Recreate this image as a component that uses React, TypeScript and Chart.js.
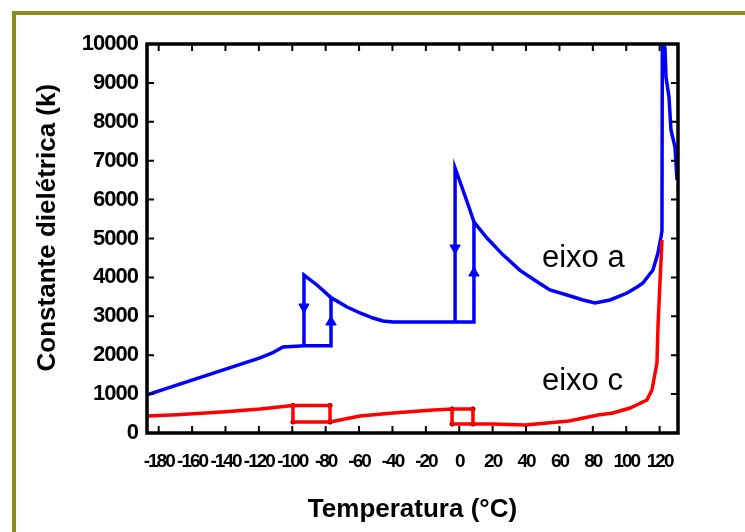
import React, { useEffect, useRef } from "react";
import { Chart, registerables } from "chart.js";

Chart.register(...registerables);

// X axis tick labels (temperature, °C) and Y axis tick labels (k)
const xTickValues = [-180, -160, -140, -120, -100, -80, -60, -40, -20, 0, 20, 40, 60, 80, 100, 120];
const yTickValues = [0, 1000, 2000, 3000, 4000, 5000, 6000, 7000, 8000, 9000, 10000];

// eixo a (blue) main path
const aTemp = [-187, -119.3, -112, -105.6, -95, -93, -76.8, -76.8, -67.2, -59.4, -51.7, -45.7, -39.7, -2.5, 8.8, 8.8, 16.6, 26.2, 36.4, 46.6, 54.3, 64.5, 74.1, 81.3, 90.3, 100.5, 106.5, 110, 116, 119, 120.8, 121.4, 121.6, 123.2, 123.8, 125.6, 126.8, 129.2, 130.4];
const aK = [980, 1930, 2057, 2210, 2237, 2240, 2240, 3480, 3239, 3085, 2956, 2879, 2853, 2853, 2853, 5424, 5013, 4580, 4180, 3890, 3676, 3548, 3420, 3342, 3420, 3599, 3753, 3856, 4190, 4627, 5039, 5200, 10000, 9900, 9152, 8637, 7789, 7352, 6504];
// eixo a hysteresis branches (cooling)
const aLoop1Temp = [-93, -93, -85.2, -76.8];
const aLoop1K = [2240, 4062, 3805, 3480];
const aLoop2Temp = [-2.5, -2.5, 2.2, 6.4, 8.8];
const aLoop2K = [2853, 6812, 6247, 5733, 5424];
// arrows on the hysteresis verticals
const arrowDownTemp = [-93, -2.5];
const arrowDownK = [3239, 4756];
const arrowUpTemp = [-76.8, 8.8];
const arrowUpK = [2853, 4113];

// eixo c (red) main path
const cTemp = [-187, -169, -140, -119.3, -99.6, -99.6, -77.4, -59.4, -39.7, -15.7, -4.3, -4.3, 8.2, 20.2, 39.4, 65.7, 83.1, 92.1, 102.3, 112.4, 115.4, 118.4, 119, 120.2, 121.4];
const cK = [440, 470, 545, 617, 707, 283, 283, 437, 514, 591, 617, 231, 231, 231, 206, 308, 463, 514, 643, 848, 1105, 1800, 2725, 3856, 4961];
// eixo c small boxes
const cBox1Temp = [-99.6, -77.4, -77.4];
const cBox1K = [707, 707, 283];
const cBox2Temp = [-4.3, 8.2, 8.2];
const cBox2K = [617, 617, 231];
const cCornerTemp = [-99.6, -99.6, -77.4, -77.4, -4.3, -4.3, 8.2, 8.2];
const cCornerK = [707, 283, 707, 283, 617, 231, 617, 231];

const curveLabels = ["eixo a", "eixo c"];
const curveLabelTemp = [49.5, 49.5];
const curveLabelK = [4267, 1105];

const zip = (xs: number[], ys: number[]) => xs.map((x, i) => ({ x, y: ys[i] }));

const BLUE = "#0000ff";
const RED = "#ff0000";
const SANS = '"Liberation Sans", Arial, sans-serif';

const framePlugin = {
  id: "frameTicks",
  afterDatasetsDraw(chart: any) {
    const { ctx, chartArea: a, scales } = chart;
    const x = scales.x;
    const y = scales.y;
    ctx.save();
    ctx.strokeStyle = "#000";
    ctx.lineWidth = 2;
    ctx.beginPath();
    x.ticks.forEach((t: any) => {
      const px = x.getPixelForValue(t.value);
      ctx.moveTo(px, a.bottom);
      ctx.lineTo(px, a.bottom - 7);
      ctx.moveTo(px, a.top);
      ctx.lineTo(px, a.top + 7);
    });
    y.ticks.forEach((t: any) => {
      const py = y.getPixelForValue(t.value);
      ctx.moveTo(a.left, py);
      ctx.lineTo(a.left + 7, py);
      ctx.moveTo(a.right, py);
      ctx.lineTo(a.right - 7, py);
    });
    ctx.stroke();
    ctx.lineWidth = 3.5;
    ctx.strokeRect(a.left, a.top, a.right - a.left, a.bottom - a.top);
    // curve labels
    ctx.fillStyle = "#000";
    ctx.font = `31px ${SANS}`;
    ctx.textAlign = "left";
    ctx.textBaseline = "alphabetic";
    curveLabels.forEach((txt, i) => {
      ctx.fillText(txt, x.getPixelForValue(curveLabelTemp[i]), y.getPixelForValue(curveLabelK[i]));
    });
    ctx.restore();
  },
};

// condense tick labels (the original uses a narrow bold face)
const condenseLabels = (s: any, spacing: string) => {
  if (s._condensed) return;
  const orig = s.drawLabels.bind(s);
  s.drawLabels = (area: any) => {
    const c = s.ctx;
    const prev = c.letterSpacing;
    c.letterSpacing = spacing;
    orig(area);
    c.letterSpacing = prev;
  };
  s._condensed = true;
};

export default function App() {
  const ref = useRef<HTMLCanvasElement>(null);
  useEffect(() => {
    if (!ref.current) return;
    const line = (data: any[], color: string) => ({
      data,
      showLine: true,
      borderColor: color,
      backgroundColor: color,
      borderWidth: 3.5,
      pointRadius: 0,
      tension: 0,
      fill: false,
    });
    const chart = new Chart(ref.current, {
      type: "scatter",
      data: {
        datasets: [
          line(zip(cTemp, cK), RED),
          line(zip(cBox1Temp, cBox1K), RED),
          line(zip(cBox2Temp, cBox2K), RED),
          {
            data: zip(cCornerTemp, cCornerK),
            showLine: false,
            pointRadius: 2.5,
            backgroundColor: "#000",
            borderColor: "#000",
            borderWidth: 0,
          },
          line(zip(aTemp, aK), BLUE),
          line(zip(aLoop1Temp, aLoop1K), BLUE),
          line(zip(aLoop2Temp, aLoop2K), BLUE),
          {
            data: zip(arrowDownTemp, arrowDownK),
            showLine: false,
            pointStyle: "triangle",
            rotation: 180,
            pointRadius: 6,
            backgroundColor: BLUE,
            borderColor: BLUE,
            borderWidth: 1,
          },
          {
            data: zip(arrowUpTemp, arrowUpK),
            showLine: false,
            pointStyle: "triangle",
            rotation: 0,
            pointRadius: 6,
            backgroundColor: BLUE,
            borderColor: BLUE,
            borderWidth: 1,
          },
        ] as any,
      },
      options: {
        responsive: false,
        animation: false,
        events: [],
        layout: { padding: { top: 44, right: 67, left: 0, bottom: 0 } },
        plugins: { legend: { display: false }, tooltip: { enabled: false } },
        scales: {
          x: {
            type: "linear",
            min: -187,
            max: 131,
            afterBuildTicks: (s: any) => {
              s.ticks = xTickValues.map((v) => ({ value: v }));
            },
            afterFit: (s: any) => {
              s.height = 99;
              condenseLabels(s, "-2px");
            },
            grid: { display: false, drawTicks: false },
            border: { display: false },
            ticks: {
              autoSkip: false,
              maxRotation: 0,
              minRotation: 0,
              padding: 17,
              color: "#000",
              callback: (v: any) => String(v),
              font: { family: SANS, size: 19, weight: "bold" },
            },
            title: {
              display: true,
              text: "Temperatura (°C)",
              color: "#000",
              font: { family: SANS, size: 26, weight: "bold" },
              padding: { top: 0, bottom: 7 },
            },
          },
          y: {
            type: "linear",
            min: 0,
            max: 10000,
            afterBuildTicks: (s: any) => {
              s.ticks = yTickValues.map((v) => ({ value: v }));
            },
            afterFit: (s: any) => {
              s.width = 147;
              condenseLabels(s, "-1px");
            },
            grid: { display: false, drawTicks: false },
            border: { display: false },
            ticks: {
              padding: 9,
              color: "#000",
              callback: (v: any) => String(v),
              font: { family: SANS, size: 22, weight: "bold" },
            },
            title: {
              display: true,
              text: "   Constante dielétrica (k)",
              color: "#000",
              font: { family: SANS, size: 26, weight: "bold" },
              padding: { top: 32, bottom: 0 },
            },
          },
        },
      },
      plugins: [framePlugin],
    } as any);
    return () => chart.destroy();
  }, []);

  return (
    <div style={{ position: "fixed", left: 0, top: 0, width: 745, height: 532, overflow: "hidden", background: "#fff" }}>
      <div
        style={{
          position: "absolute",
          left: 12,
          top: 11,
          width: 800,
          height: 600,
          borderLeft: "4px solid #8e8b1d",
          borderTop: "4px solid #8e8b1d",
          boxSizing: "border-box",
        }}
      />
      <canvas ref={ref} width={745} height={532} style={{ position: "absolute", left: 0, top: 0, width: 745, height: 532 }} />
    </div>
  );
}
